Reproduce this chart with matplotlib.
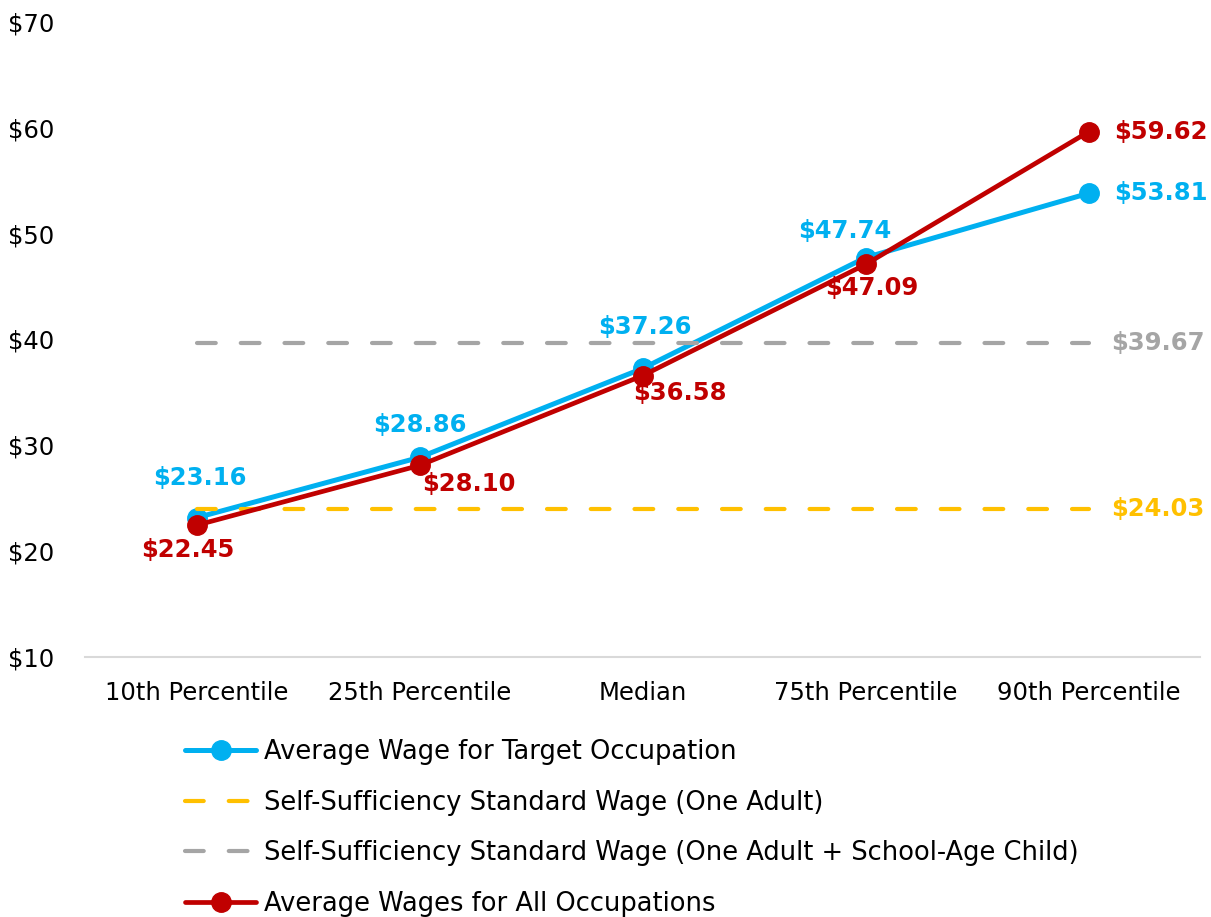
import numpy as np
import matplotlib.pyplot as plt

categories = ['10th Percentile', '25th Percentile', 'Median', '75th Percentile', '90th Percentile']
target_wage = [23.16, 28.86, 37.26, 47.74, 53.81]
all_wage = [22.45, 28.10, 36.58, 47.09, 59.62]
ss_one_adult = 24.03
ss_adult_child = 39.67

# label offsets in pixels (dx, dy) relative to each point
blue_off = [(3, 40), (0, 32), (2, 41), (-21, 27)]
red_off = [(-9, -25), (49, -19), (37, -17), (6, -24)]

BLUE = '#00B0F0'
RED = '#C00000'
YELLOW = '#FFC000'
GRAY = '#A5A5A5'

plt.rcParams['font.family'] = ['DejaVu Sans']
fs = 17.5

fig = plt.figure(figsize=(12.11, 9.17), dpi=100)
ax = fig.add_axes([85/1211, 1-657/917, 1115/1211, 635/917])

x = np.arange(len(categories))
l1, = ax.plot(x, target_wage, color=BLUE, lw=3.6, marker='o', ms=14,
              label='Average Wage for Target Occupation', solid_capstyle='round')
l2, = ax.plot(x, [ss_one_adult]*len(x), color=YELLOW, lw=3, dashes=(4.5, 6),
              dash_capstyle='round', label='Self-Sufficiency Standard Wage (One Adult)')
l3, = ax.plot(x, [ss_adult_child]*len(x), color=GRAY, lw=3, dashes=(4.5, 6),
              dash_capstyle='round',
              label='Self-Sufficiency Standard Wage (One Adult + School-Age Child)')
l4, = ax.plot(x, all_wage, color=RED, lw=3.4, marker='o', ms=14,
              label='Average Wages for All Occupations', solid_capstyle='round')

px = 0.72
for i in range(4):
    dx, dy = blue_off[i]
    ax.annotate(f'${target_wage[i]:.2f}', (x[i], target_wage[i]), xytext=(dx*px, dy*px),
                textcoords='offset points', ha='center', va='center', color=BLUE,
                fontsize=fs, fontweight='bold')
    dx, dy = red_off[i]
    ax.annotate(f'${all_wage[i]:.2f}', (x[i], all_wage[i]), xytext=(dx*px, dy*px),
                textcoords='offset points', ha='center', va='center', color=RED,
                fontsize=fs, fontweight='bold')

# right-hand end labels
for v, c, off in [(target_wage[-1], BLUE, 26), (all_wage[-1], RED, 26),
                  (ss_one_adult, YELLOW, 23), (ss_adult_child, GRAY, 23)]:
    ax.annotate(f'${v:.2f}', (x[-1], v), xytext=(off*px, 0), textcoords='offset points',
                ha='left', va='center', color=c, fontsize=fs, fontweight='bold')

ax.set_xlim(-0.5, 4.5)
ax.set_ylim(10, 70)
ax.set_yticks(np.arange(10, 71, 10))
ax.set_yticklabels([f'${t}' for t in range(10, 71, 10)])
ax.set_xticks(x)
ax.set_xticklabels(categories)
ax.tick_params(axis='both', length=0, labelsize=fs, colors='black')
ax.tick_params(axis='y', pad=22)
ax.tick_params(axis='x', pad=17)
for s in ['top', 'right', 'left']:
    ax.spines[s].set_visible(False)
ax.spines['bottom'].set_color('#D9D9D9')
ax.spines['bottom'].set_linewidth(1.5)

fig.legend(handles=[l1, l2, l3, l4], loc='upper left', bbox_to_anchor=(175/1211, 1-729/917),
           frameon=False, fontsize=18.5, handlelength=2.75, handletextpad=0.3,
           labelspacing=0.95, borderaxespad=0)

fig.savefig('out.png', dpi=100)
